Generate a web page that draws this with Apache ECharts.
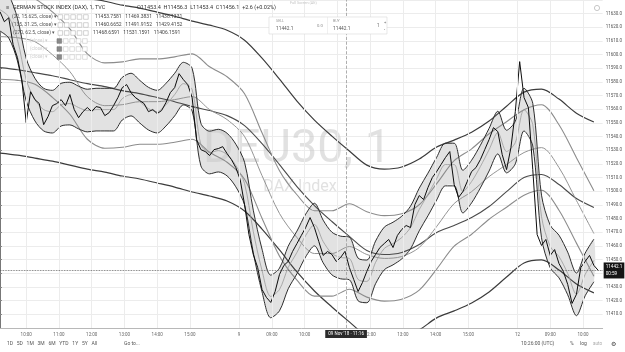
<!DOCTYPE html>
<html>
<head>
<meta charset="utf-8">
<title>GERMAN STOCK INDEX (DAX), 1</title>
<script src="https://cdn.jsdelivr.net/npm/echarts@6/dist/echarts.min.js"></script>
<style>
  html, body { margin: 0; padding: 0; background: #fff; }
  #chart { width: 625px; height: 352px; }
</style>
</head>
<body>
<div id="chart"></div>
<script>
// x = 1-minute bar index counted from the left edge of the view
const tickBars = [48, 108, 168, 228, 288, 348, 438, 498, 558, 618, 678, 738, 798, 858, 948, 1008, 1068]
const tickLabels = ['10:00', '11:00', '12:00', '13:00', '14:00', '15:00', '9', '09:00', '10:00', '11:00',
  '12:00', '13:00', '14:00', '15:00', '12', '09:00', '10:00']

// close, one value every 8 bars
const priceStep = 8
const price = [
  11631.4, 11624.1, 11627.0, 11607.3, 11597.8, 11581.7, 11550.3, 11572.9, 11567.1, 11564.2,
  11548.8, 11554.7, 11562.7, 11564.2, 11567.1, 11562.7, 11570.8, 11559.8, 11553.9, 11558.3,
  11561.3, 11558.3, 11562.0, 11561.3, 11555.4, 11557.6, 11562.7, 11568.6, 11575.9, 11578.1,
  11572.2, 11568.6, 11566.4, 11564.2, 11558.3, 11559.8, 11556.9, 11559.1, 11564.9, 11572.2,
  11575.9, 11586.1, 11581.7, 11578.1, 11568.6, 11537.9, 11530.5, 11529.1, 11526.2, 11530.5,
  11531.3, 11532.7, 11527.6, 11523.2, 11517.4, 11508.6, 11490.3, 11468.4, 11453.8, 11444.3,
  11428.2, 11422.4, 11418.7, 11426.7, 11439.2, 11445.8, 11448.7, 11456.0, 11461.8, 11467.7,
  11473.5, 11480.8, 11473.5, 11463.3, 11453.1, 11456.0, 11453.8, 11448.7, 11451.6, 11456.1,
  11444.3, 11435.5, 11426.7, 11433.3, 11441.4, 11448.7, 11453.8, 11458.9, 11461.8, 11464.8,
  11458.9, 11467.7, 11472.1, 11475.0, 11473.5, 11490.3, 11496.9, 11494.0, 11502.8, 11510.1,
  11514.5, 11519.6, 11524.7, 11529.1, 11505.0, 11495.5, 11499.8, 11507.2, 11514.5, 11517.4,
  11523.2, 11530.5, 11537.9, 11546.6, 11543.7, 11526.9, 11515.9, 11532.0, 11558.3, 11594.9,
  11568.6, 11561.3, 11515.9, 11468.4, 11460.4, 11464.8, 11453.1, 11457.4, 11447.2, 11441.4,
  11431.9, 11418.0, 11424.6, 11444.3, 11448.7, 11453.1, 11445.8, 11442.1
]

// envelope (22, 15.625), one value every 16 bars
const innerStep = 16
const innerMid = [
  11632.9, 11627.8, 11611.0, 11581.7, 11567.1, 11559.8, 11558.3, 11563.4, 11564.2, 11561.3,
  11559.1, 11559.8, 11559.8, 11559.8, 11567.8, 11570.8, 11565.6, 11560.5, 11558.3, 11563.4,
  11570.8, 11578.8, 11574.4, 11534.2, 11528.4, 11529.8, 11526.9, 11518.9, 11505.7, 11470.6,
  11442.1, 11423.1, 11428.2, 11444.3, 11455.3, 11467.7, 11475.7, 11463.3, 11454.5, 11451.6,
  11450.9, 11435.5, 11434.1, 11448.0, 11458.2, 11461.8, 11466.2, 11473.5, 11486.7, 11497.7,
  11509.3, 11519.6, 11519.6, 11499.8, 11507.2, 11518.1, 11530.5, 11543.0, 11529.1, 11535.7,
  11559.8, 11548.8, 11481.6, 11459.6, 11452.3, 11439.9, 11424.6, 11439.2, 11449.4
]
const innerUpper = [
  11648.5, 11643.4, 11626.6, 11597.3, 11582.7, 11575.4, 11573.9, 11579.0, 11579.8, 11576.9,
  11574.7, 11575.4, 11575.4, 11575.4, 11583.4, 11586.4, 11581.2, 11576.1, 11573.9, 11579.0,
  11586.4, 11594.4, 11590.0, 11549.8, 11544.0, 11545.4, 11542.5, 11534.5, 11521.3, 11486.2,
  11457.7, 11438.7, 11443.8, 11459.9, 11470.9, 11483.3, 11491.3, 11478.9, 11470.1, 11467.2,
  11466.5, 11451.1, 11449.7, 11463.6, 11473.8, 11477.4, 11481.8, 11489.1, 11502.3, 11513.3,
  11524.9, 11535.2, 11535.2, 11515.4, 11522.8, 11533.7, 11546.1, 11558.6, 11544.7, 11551.3,
  11575.4, 11564.4, 11497.2, 11475.2, 11467.9, 11455.5, 11440.2, 11454.8, 11465.0
]
const innerLower = [
  11617.3, 11612.2, 11595.4, 11566.1, 11551.5, 11544.2, 11542.7, 11547.8, 11548.6, 11545.7,
  11543.5, 11544.2, 11544.2, 11544.2, 11552.2, 11555.2, 11550.0, 11544.9, 11542.7, 11547.8,
  11555.2, 11563.2, 11558.8, 11518.6, 11512.8, 11514.2, 11511.3, 11503.3, 11490.1, 11455.0,
  11426.5, 11407.5, 11412.6, 11428.7, 11439.7, 11452.1, 11460.1, 11447.7, 11438.9, 11436.0,
  11435.3, 11419.9, 11418.5, 11432.4, 11442.6, 11446.2, 11450.6, 11457.9, 11471.1, 11482.1,
  11493.7, 11504.0, 11504.0, 11484.2, 11491.6, 11502.5, 11514.9, 11527.4, 11513.5, 11520.1,
  11544.2, 11533.2, 11466.0, 11444.0, 11436.7, 11424.3, 11409.0, 11423.6, 11433.8
]

// envelopes (135, 31.25) and (270, 62.5), one value every 32 bars
const wideStep = 32
const midMid = [
  11613.2, 11612.4, 11609.5, 11600.0, 11587.6, 11569.3, 11562.7, 11563.4, 11565.6, 11565.6,
  11567.1, 11569.3, 11559.8, 11552.5, 11540.1, 11511.5, 11483.8, 11466.2, 11454.5, 11454.5,
  11459.6, 11453.8, 11450.9, 11452.3, 11458.9, 11474.3, 11491.1, 11499.8, 11510.8, 11519.6,
  11528.4, 11532.0, 11517.4, 11493.3, 11469.1
]
const midUpper = [
  11644.5, 11643.7, 11640.8, 11631.3, 11618.9, 11600.6, 11594.0, 11594.7, 11596.9, 11596.9,
  11598.4, 11600.6, 11591.1, 11583.8, 11571.4, 11542.8, 11515.1, 11497.5, 11485.8, 11485.8,
  11490.9, 11485.1, 11482.2, 11483.6, 11490.2, 11505.6, 11522.4, 11531.1, 11542.1, 11550.9,
  11559.7, 11563.3, 11548.7, 11524.6, 11500.4
]
const midLower = [
  11582.0, 11581.2, 11578.3, 11568.8, 11556.4, 11538.1, 11531.5, 11532.2, 11534.4, 11534.4,
  11535.9, 11538.1, 11528.6, 11521.3, 11508.9, 11480.3, 11452.6, 11435.0, 11423.3, 11423.3,
  11428.4, 11422.6, 11419.7, 11421.1, 11427.7, 11443.1, 11459.9, 11468.6, 11479.6, 11488.4,
  11497.2, 11500.8, 11486.2, 11462.1, 11437.9
]
const outerMid = [
  11590.5, 11589.0, 11586.8, 11584.6, 11581.7, 11578.8, 11576.6, 11573.7, 11571.5, 11568.6,
  11565.6, 11562.0, 11559.1, 11555.4, 11548.1, 11534.9, 11519.6, 11503.5, 11489.6, 11477.9,
  11467.0, 11456.7, 11453.8, 11455.3, 11461.1, 11469.9, 11475.0, 11480.8, 11488.9, 11499.8,
  11510.1, 11512.3, 11505.0, 11494.7, 11488.2
]
const outerUpper = [
  11653.0, 11651.5, 11649.3, 11647.1, 11644.2, 11641.3, 11639.1, 11636.2, 11634.0, 11631.1,
  11628.1, 11624.5, 11621.6, 11617.9, 11610.6, 11597.4, 11582.1, 11566.0, 11552.1, 11540.4,
  11529.5, 11519.2, 11516.3, 11517.8, 11523.6, 11532.4, 11537.5, 11543.3, 11551.4, 11562.3,
  11572.6, 11574.8, 11567.5, 11557.2, 11550.7
]
const outerLower = [
  11528.0, 11526.5, 11524.3, 11522.1, 11519.2, 11516.3, 11514.1, 11511.2, 11509.0, 11506.1,
  11503.1, 11499.5, 11496.6, 11492.9, 11485.6, 11472.4, 11457.1, 11441.0, 11427.1, 11415.4,
  11404.5, 11394.2, 11391.3, 11392.8, 11398.6, 11407.4, 11412.5, 11418.3, 11426.4, 11437.3,
  11447.6, 11449.8, 11442.5, 11432.2, 11425.7
]

const lastPrice = 11442.1
const markerPrice = 11570.2
const crossBar = 634
const crossLabel = "09 Nov '18 · 11:16"

const FONT = 'Roboto, "Liberation Sans", sans-serif'
const toPairs = (vals, step) => vals.map((v, i) => [i * step, v])

const bandLine = (name, vals, step, color, width) => ({
  name,
  type: 'line',
  data: toPairs(vals, step),
  symbol: 'none',
  smooth: 0.3,
  silent: true,
  lineStyle: { color, width }
})

const txt = (x, y, text, size, fill, extra) => ({
  type: 'text', x, y, z: 50, silent: true,
  style: Object.assign({ text, fill, fontSize: size, fontFamily: FONT, verticalAlign: 'middle' }, extra || {})
})
const box = (x, y, w, h, fill, stroke) => ({
  type: 'rect', z: 50, silent: true,
  shape: { x, y, width: w, height: h },
  style: { fill, stroke, lineWidth: 0.6 }
})

const legendRows = [
  { y: 17, label: '(22, 15.625, close) ▾', x: 12, values: '11453.7581   11469.3831   11438.1331', vx: 95 },
  { y: 25, label: '(135, 31.25, close) ▾', x: 12, values: '11460.6652   11491.9152   11429.4152', vx: 95 },
  { y: 33, label: '(270, 62.5, close) ▾', x: 13, values: '11468.6591   11531.1591   11406.1591', vx: 93 }
]

const graphics = [
  // header
  txt(6, 8, '≡', 5.5, '#555'),
  txt(13, 8, 'GERMAN STOCK INDEX (DAX), 1, TVC', 5.5, '#333'),
  txt(137, 8, 'O11453.4  H11456.3  L11453.4  C11456.1  +2.6 (+0.02%)', 5.5, '#333'),
  txt(290, 3, 'Full Screen (Alt)', 3.8, '#c4c4c4'),
  { type: 'circle', z: 50, silent: true, shape: { cx: 597, cy: 8, r: 2.6 }, style: { fill: '#fff', stroke: '#b0b0b0', lineWidth: 0.7 } },
  // order widget
  box(269, 17, 118, 17, '#fff', '#d8d8d8'),
  box(327, 17, 0.5, 17, '#e2e2e2', null),
  txt(276, 21.5, 'SELL', 3.6, '#999'),
  txt(276, 28.5, '11442.1', 4.8, '#555'),
  txt(317, 26, '0.0', 4.2, '#888'),
  txt(333, 21.5, 'BUY', 3.6, '#999'),
  txt(333, 28.5, '11442.1', 4.8, '#555'),
  txt(377, 26, '1', 4.5, '#666'),
  txt(384, 22.5, '+', 4, '#777'),
  txt(384, 29.5, '-', 4, '#777'),
  // bottom toolbar
  txt(7, 344, '1D   5D   1M   3M   6M   YTD   1Y   5Y   All', 5, '#555'),
  txt(124, 344, 'Go to...', 5, '#555'),
  txt(521, 344, '10:26:00 (UTC)', 5, '#555'),
  txt(570, 344, '%', 5, '#555'),
  txt(580, 344, 'log', 5, '#555'),
  txt(593, 344, 'auto', 4.6, '#aaa'),
  txt(611, 344, '⚙', 6, '#444')
]

legendRows.forEach(r => {
  graphics.push(txt(r.x, r.y, r.label, 5, '#555'))
  for (let i = 0; i < 5; i++) graphics.push(box(58 + i * 6.4, r.y - 2.3, 4.6, 4.6, '#fff', '#b5b5b5'))
  graphics.push(txt(r.vx, r.y, r.values, 5, '#444'))
})
;[41, 49, 57].forEach(y => {
  graphics.push(txt(30, y, '(close) ▾', 4.6, '#cfcfcf'))
  graphics.push(box(57, y - 2.3, 4.6, 4.6, '#8a8a8a', '#777'))
  for (let i = 1; i < 5; i++) graphics.push(box(57 + i * 6.4, y - 2.3, 4.6, 4.6, '#fff', '#c8c8c8'))
})

// shaded area between the inner envelope's upper and lower lines
const renderInnerFill = (params, api) => {
  const top = innerUpper.map((v, i) => api.coord([i * innerStep, v]))
  const bottom = innerLower.map((v, i) => api.coord([i * innerStep, v])).reverse()
  return {
    type: 'polygon',
    shape: { points: top.concat(bottom), smooth: 0.3 },
    style: { fill: '#e2e2e2' }
  }
}

// symbol watermark, drawn above the shaded band but under the lines
const renderWatermark = () => ({
  type: 'group',
  children: [
    { type: 'text', x: 297, y: 150, style: { text: 'DEU30, 1', fill: 'rgba(200,200,200,0.55)', fontSize: 47, fontFamily: FONT, align: 'center', verticalAlign: 'middle' } },
    { type: 'text', x: 300, y: 187, style: { text: 'DAX Index', fill: 'rgba(200,200,200,0.55)', fontSize: 16, fontFamily: FONT, align: 'center', verticalAlign: 'middle' } }
  ]
})

const chart = echarts.init(document.getElementById('chart'), null, { renderer: 'canvas' })

const option = {
  animation: false,
  backgroundColor: '#fff',
  grid: { left: 0, right: 22, top: 0, bottom: 24, containLabel: false },
  xAxis: {
    type: 'value',
    min: 0,
    max: 1104,
    axisLine: { show: true, lineStyle: { color: '#b8b8b8', width: 1 } },
    axisTick: { show: false },
    splitLine: { show: false },
    axisLabel: {
      customValues: tickBars,
      formatter: v => tickLabels[tickBars.indexOf(v)] || '',
      fontSize: 4.5,
      color: '#666',
      margin: 4,
      fontFamily: FONT
    }
  },
  yAxis: {
    type: 'value',
    position: 'right',
    min: 11400,
    max: 11640,
    interval: 10,
    axisLine: { show: true, lineStyle: { color: '#777', width: 1 } },
    axisTick: { show: true, length: 2, lineStyle: { color: '#888' } },
    splitLine: { show: true, lineStyle: { color: '#ececec', width: 1 } },
    axisLabel: {
      showMinLabel: false,
      showMaxLabel: false,
      formatter: v => v.toFixed(1),
      fontSize: 4.5,
      color: '#555',
      margin: 3,
      fontFamily: FONT
    }
  },
  graphic: graphics,
  series: [
    {
      name: 'grid',
      type: 'line',
      data: [],
      z: 1,
      silent: true,
      markLine: {
        silent: true,
        symbol: 'none',
        animation: false,
        label: { show: false },
        lineStyle: { color: '#ececec', width: 1, type: 'solid' },
        data: tickBars.map(b => ({ xAxis: b }))
      }
    },
    {
      name: 'innerFill',
      type: 'custom',
      data: [0],
      clip: true,
      silent: true,
      renderItem: renderInnerFill
    },
    {
      name: 'watermark',
      type: 'custom',
      data: [0],
      silent: true,
      renderItem: renderWatermark
    },
    bandLine('outerUpper', outerUpper, wideStep, '#3c3c3c', 1.2),
    bandLine('outerMid', outerMid, wideStep, '#4a4a4a', 1.1),
    bandLine('outerLower', outerLower, wideStep, '#3c3c3c', 1.2),
    bandLine('midUpper', midUpper, wideStep, '#8c8c8c', 1.1),
    bandLine('midMid', midMid, wideStep, '#949494', 1),
    bandLine('midLower', midLower, wideStep, '#8c8c8c', 1.1),
    bandLine('innerUpper', innerUpper, innerStep, '#2e2e2e', 1),
    bandLine('innerMid', innerMid, innerStep, '#9a9a9a', 0.8),
    bandLine('innerLower', innerLower, innerStep, '#2e2e2e', 1),
    {
      name: 'DAX',
      type: 'line',
      data: toPairs(price, priceStep),
      symbol: 'none',
      silent: true,
      lineStyle: { color: '#0c0c0c', width: 1 },
      markLine: {
        silent: true,
        symbol: 'none',
        animation: false,
        data: [
          {
            yAxis: lastPrice,
            lineStyle: { type: 'dotted', color: '#555', width: 0.8 },
            label: {
              show: true, position: 'end', distance: 1,
              formatter: lastPrice.toFixed(1) + '\n00:59',
              color: '#fff', backgroundColor: '#141414',
              fontSize: 4.6, lineHeight: 7.5, padding: [0.5, 2, 0.5, 2], fontFamily: FONT
            }
          },
          {
            yAxis: markerPrice,
            lineStyle: { opacity: 0 },
            label: {
              show: true, position: 'end', distance: 1,
              formatter: markerPrice.toFixed(1),
              color: '#fff', backgroundColor: '#141414',
              fontSize: 4.6, padding: [1.5, 2, 1.5, 2], fontFamily: FONT
            }
          },
          {
            xAxis: crossBar,
            lineStyle: { type: 'dashed', color: '#9a9a9a', width: 0.8 },
            label: {
              show: true, position: 'start', distance: 2,
              formatter: crossLabel,
              color: '#fff', backgroundColor: '#2b2b2b',
              fontSize: 4.5, padding: [1.5, 3, 1.5, 3], fontFamily: FONT
            }
          }
        ]
      }
    }
  ]
}

chart.setOption(option)
window.addEventListener('resize', () => chart.resize())
</script>
</body>
</html>
